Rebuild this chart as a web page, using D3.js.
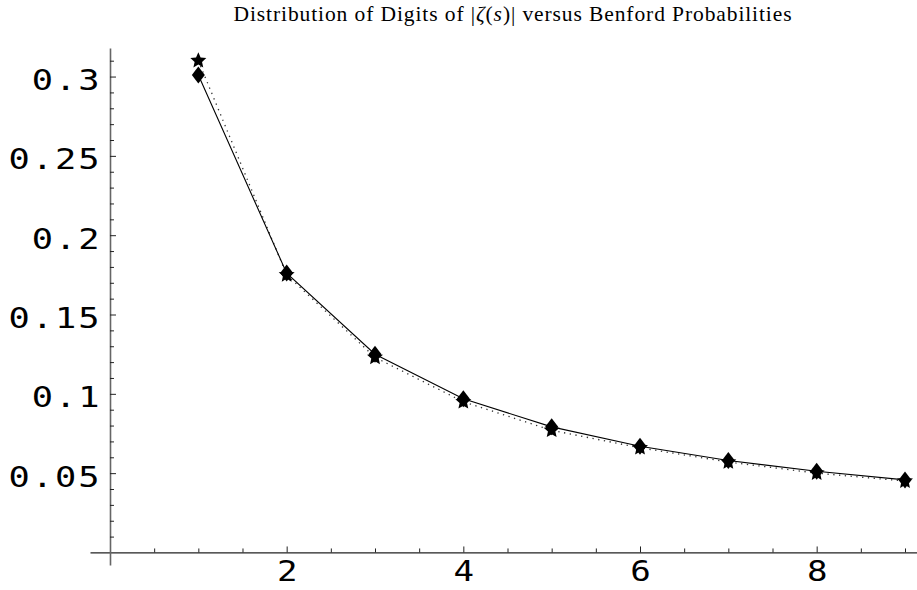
<!DOCTYPE html>
<html><head><meta charset="utf-8">
<script src="https://cdn.jsdelivr.net/npm/d3@7"></script>
<style>body{margin:0;background:#fff}svg{display:block}</style>
</head><body><svg id="c" width="917" height="590"></svg>
<script>
const digits = [1,2,3,4,5,6,7,8,9];
const benford = [0.30103,0.17609,0.12494,0.09691,0.07918,0.06695,0.05799,0.05115,0.04576];
const zetaDigits = [0.310,0.175,0.123,0.095,0.077,0.066,0.057,0.050,0.045];
const xMajorTicks = [2,4,6,8];
const xTickLabels = ["2","4","6","8"];
const xMinorTicks = [0.5,1,1.5,2.5,3,3.5,4.5,5,5.5,6.5,7,7.5,8.5,9];
const yMajorTicks = [0.05,0.1,0.15,0.2,0.25,0.3];
const yTickLabels = ["0.05","0.1","0.15","0.2","0.25","0.3"];
const yMinorTicks = [0.01,0.02,0.03,0.04,0.06,0.07,0.08,0.09,0.11,0.12,0.13,0.14,0.16,0.17,0.18,0.19,0.21,0.22,0.23,0.24,0.26,0.27,0.28,0.29,0.31];

const svg = d3.select("#c");
const x = d3.scaleLinear().domain([-0.2264, 9.1358]).range([90, 917]);
const y = d3.scaleLinear().domain([-0.0079, 0.318]).range([565, 48]);
const y0 = y(0), x0 = x(0);

// title
const title = svg.append("text").attr("x", 513).attr("y", 21)
  .attr("text-anchor", "middle")
  .style("font-family", "'Liberation Serif','DejaVu Serif',serif")
  .style("font-size", "21.5px").style("letter-spacing", "0.9px").attr("fill", "#000");
title.append("tspan").text("Distribution of Digits of |");
title.append("tspan").style("font-style", "italic").text("ζ");
title.append("tspan").text("(");
title.append("tspan").style("font-style", "italic").text("s");
title.append("tspan").text(")| versus Benford Probabilities");

const tickFont = "'DejaVu Sans Mono',monospace";
const sx = 1.22;

// x axis
const gx = svg.append("g").attr("transform", `translate(0,${y0})`);
gx.call(d3.axisBottom(x).tickValues(xMinorTicks).tickSize(-4).tickSizeOuter(0).tickFormat(""));
gx.selectAll(".domain").attr("stroke", "#222").attr("stroke-width", 1.3);
gx.selectAll(".tick line").attr("stroke", "#222").attr("stroke-width", 1);
const gx2 = svg.append("g").attr("transform", `translate(0,${y0})`);
gx2.call(d3.axisBottom(x).tickValues(xMajorTicks).tickSize(-6).tickSizeOuter(0)
  .tickPadding(9).tickFormat((d,i) => xTickLabels[i]));
gx2.select(".domain").remove();
gx2.selectAll(".tick line").attr("stroke", "#222").attr("stroke-width", 1);
gx2.selectAll(".tick text").style("font-family", tickFont).style("font-size", "28px")
  .attr("fill", "#000").attr("dy", "0.71em").attr("transform", `scale(${sx},1)`);

// y axis
const gy = svg.append("g").attr("transform", `translate(${x0},0)`);
gy.call(d3.axisLeft(y).tickValues(yMinorTicks).tickSize(-4).tickSizeOuter(0).tickFormat(""));
gy.selectAll(".domain").attr("stroke", "#666").attr("stroke-width", 1.6);
gy.selectAll(".tick line").attr("stroke", "#222").attr("stroke-width", 1);
const gy2 = svg.append("g").attr("transform", `translate(${x0},0)`);
gy2.call(d3.axisLeft(y).tickValues(yMajorTicks).tickSize(-6).tickSizeOuter(0)
  .tickPadding(7).tickFormat((d,i) => yTickLabels[i]));
gy2.select(".domain").remove();
gy2.selectAll(".tick line").attr("stroke", "#222").attr("stroke-width", 1);
gy2.selectAll(".tick text").style("font-family", tickFont).style("font-size", "29px")
  .style("letter-spacing", "1.6px").attr("fill", "#000").attr("dy", "0.45em")
  .attr("transform", `scale(${sx},1)`);

// lines
const lineB = d3.line().x((d,i) => x(digits[i])).y(d => y(d));
svg.append("path").datum(zetaDigits).attr("d", lineB)
  .attr("fill", "none").attr("stroke", "#333").attr("stroke-width", 1.3)
  .attr("stroke-dasharray", "1.3,4.5");
svg.append("path").datum(benford).attr("d", lineB)
  .attr("fill", "none").attr("stroke", "#000").attr("stroke-width", 1.1);

// diamonds
const diamond = "M0,-8.5L6.5,0L0,8.5L-6.5,0Z";
svg.append("g").selectAll("path").data(benford).join("path")
  .attr("d", diamond)
  .attr("transform", (d,i) => `translate(${x(digits[i])},${y(d)})`)
  .attr("fill", "#000");

// stars
const starPts = d3.range(10).map(k => {
  const r = k % 2 ? 3.9 : 8.4, a = k * Math.PI / 5;
  return [r * Math.sin(a), -r * Math.cos(a)];
});
const starPath = "M" + starPts.map(p => p.join(",")).join("L") + "Z";
svg.append("g").selectAll("path").data(zetaDigits).join("path")
  .attr("d", starPath)
  .attr("transform", (d,i) => `translate(${x(digits[i])},${y(d)})`)
  .attr("fill", "#000");
</script></body></html>
